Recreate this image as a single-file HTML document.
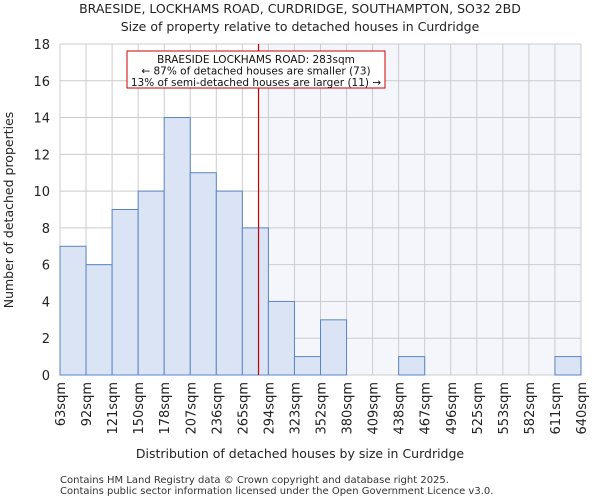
<!DOCTYPE html>
<html><head><meta charset="utf-8"><style>
body{margin:0;background:#fff;font-family:"DejaVu Sans","Liberation Sans",sans-serif;}
</style></head><body>
<svg width="600" height="500" xmlns="http://www.w3.org/2000/svg" font-family="DejaVu Sans, Liberation Sans, sans-serif">
<text x="300" y="13" text-anchor="middle" font-size="12.5" fill="#222">BRAESIDE, LOCKHAMS ROAD, CURDRIDGE, SOUTHAMPTON, SO32 2BD</text>
<text x="300" y="31" text-anchor="middle" font-size="12.5" fill="#222">Size of property relative to detached houses in Curdridge</text>
<g id="plot"></g>
<text x="300" y="458" text-anchor="middle" font-size="12.5" fill="#222">Distribution of detached houses by size in Curdridge</text>
<text transform="translate(13,210) rotate(-90)" text-anchor="middle" font-size="12.5" fill="#222">Number of detached properties</text>
<text x="60" y="483" font-size="10" fill="#333">Contains HM Land Registry data © Crown copyright and database right 2025.</text>
<text x="60" y="494" font-size="10" fill="#333">Contains public sector information licensed under the Open Government Licence v3.0.</text>
</svg>
<script>
const categories=["63sqm","92sqm","121sqm","150sqm","178sqm","207sqm","236sqm","265sqm","294sqm","323sqm","352sqm","380sqm","409sqm","438sqm","467sqm","496sqm","525sqm","553sqm","582sqm","611sqm","640sqm"];
const counts=[7,6,9,10,14,11,10,8,4,1,3,0,0,1,0,0,0,0,0,1];
const yTicks=[0,2,4,6,8,10,12,14,16,18];
const markerValue=283;
const edgeValues=[63,92,121,150,178,207,236,265,294,323,352,380,409,438,467,496,525,553,582,611,640];
const L=60,R=581,T=44,B=375,yMax=18;
const n=counts.length,bw=(R-L)/n;
const y=v=>B-v/yMax*(B-T);
const xi=i=>L+i*bw;
function xv(v){for(let i=0;i<edgeValues.length-1;i++){if(v<=edgeValues[i+1])return xi(i)+(v-edgeValues[i])/(edgeValues[i+1]-edgeValues[i])*bw;}return R;}
const ns="http://www.w3.org/2000/svg",g=document.getElementById('plot');
function mk(t,a){const e=document.createElementNS(ns,t);for(const k in a)e.setAttribute(k,a[k]);g.appendChild(e);return e;}
const mx=xv(markerValue);
let e=mk('rect',{x:mx,y:T,width:R-mx,height:B-T,fill:'#f4f6fc'});


yTicks.forEach(t=>{const l=mk('line',{x1:L,x2:R,y1:y(t),y2:y(t),stroke:'#ccc','stroke-width':1});


const tx=mk('text',{x:L-10,y:y(t)+5,'text-anchor':'end','font-size':13,fill:'#222'});tx.textContent=t;

});
for(let i=0;i<=n;i++){const l=mk('line',{x1:xi(i),x2:xi(i),y1:T,y2:B,stroke:'#ccc','stroke-width':1});

}
counts.forEach((c,i)=>{if(c<=0)return;const r=mk('rect',{x:xi(i),y:y(c),width:bw,height:B-y(c),fill:'#dae4f4',stroke:'#5b84c4','stroke-width':1});

});
categories.forEach((c,i)=>{const t=mk('text',{transform:`translate(${xi(i)+5},382) rotate(-90)`,'text-anchor':'end','font-size':13,fill:'#222'});t.textContent=c;

});
e=mk('line',{x1:mx,x2:mx,y1:T,y2:B,stroke:'#cc0000','stroke-width':1.2});


e=mk('rect',{x:127,y:51,width:258,height:37,fill:'#fff',stroke:'#cc0000','stroke-width':1});


["BRAESIDE LOCKHAMS ROAD: 283sqm","← 87% of detached houses are smaller (73)","13% of semi-detached houses are larger (11) →"].forEach((s,i)=>{const t=mk('text',{x:256,y:63+i*11.5,'text-anchor':'middle','font-size':10.5,fill:'#111'});t.textContent=s;

});
</script>
</body></html>
